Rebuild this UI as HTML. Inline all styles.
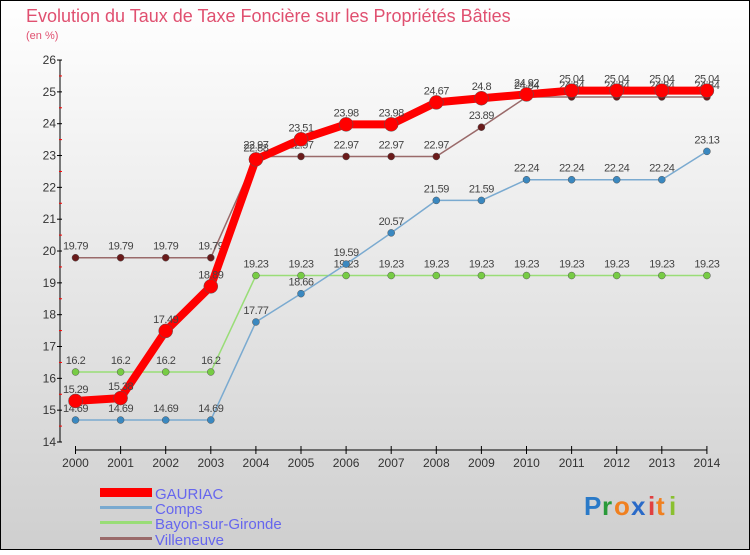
<!DOCTYPE html>
<html><head><meta charset="utf-8"><style>
body{margin:0;}
svg text{font-family:"Liberation Sans",sans-serif;}
</style></head><body>
<svg width="750" height="550" xmlns="http://www.w3.org/2000/svg">
<defs><linearGradient id="bg" x1="0" y1="0" x2="0" y2="1"><stop offset="0" stop-color="#ffffff"/><stop offset="1" stop-color="#cfcfcf"/></linearGradient></defs>
<rect x="0.5" y="0.5" width="749" height="549" fill="url(#bg)" stroke="#000"/>
<text x="26" y="22" font-size="18" fill="#e05070">Evolution du Taux de Taxe Foncière sur les Propriétés Bâties</text>
<text x="26" y="39" font-size="11" fill="#e05070">(en %)</text>
<g id="axes"></g>
<g id="series"></g>
<g>
<rect x="100" y="488" width="52" height="9" fill="#ff0000"/>
<text x="155" y="499" font-size="15" fill="#6666ee">GAURIAC</text>
<rect x="100" y="506" width="52" height="3" fill="#7aaad0"/>
<text x="155" y="514" font-size="15" fill="#6666ee">Comps</text>
<rect x="100" y="521" width="52" height="3" fill="#99dd77"/>
<text x="155" y="529" font-size="15" fill="#6666ee">Bayon-sur-Gironde</text>
<rect x="100" y="537" width="52" height="3" fill="#9a6a6a"/>
<text x="155" y="545" font-size="15" fill="#6666ee">Villeneuve</text>
</g>
<g font-size="26" font-weight="bold">
<text x="584" y="515" fill="#2a7ac8">P</text><text x="602" y="515" fill="#2a9a3a">r</text><text x="614" y="515" fill="#f08020">o</text><text x="631" y="515" fill="#2a6ac8">x</text><text x="648" y="515" fill="#e04040">i</text><text x="656" y="515" fill="#f08020">t</text><text x="669" y="515" fill="#8ac030">i</text>
</g>
</svg>
<script>
const years=[2000,2001,2002,2003,2004,2005,2006,2007,2008,2009,2010,2011,2012,2013,2014];
const yTicks=[14,15,16,17,18,19,20,21,22,23,24,25,26];
const gauriac=[15.29,15.38,17.49,18.89,22.88,23.51,23.98,23.98,24.67,24.8,24.92,25.04,25.04,25.04,25.04];
const comps=[14.69,14.69,14.69,14.69,17.77,18.66,19.59,20.57,21.59,21.59,22.24,22.24,22.24,22.24,23.13];
const bayon=[16.2,16.2,16.2,16.2,19.23,19.23,19.23,19.23,19.23,19.23,19.23,19.23,19.23,19.23,19.23];
const villeneuve=[19.79,19.79,19.79,19.79,22.97,22.97,22.97,22.97,22.97,23.89,24.84,24.84,24.84,24.84,24.84];
const NS="http://www.w3.org/2000/svg";
const X=i=>75.5+i*45.1;
const Y=v=>442-(v-14)*31.83;
function mk(t,a,p){const e=document.createElementNS(NS,t);for(const k in a)e.setAttribute(k,a[k]);p.appendChild(e);return e;}
const ax=document.getElementById('axes');
const yl=mk('line',{x1:60,y1:Y(26),x2:60,y2:Y(14),stroke:'#000'},ax);


yTicks.forEach(v=>{
 mk('line',{x1:57,y1:Y(v),x2:62,y2:Y(v),stroke:'#000'},ax);
 if(v<26) mk('line',{x1:59,y1:Y(v+0.5),x2:62,y2:Y(v+0.5),stroke:'#f00'},ax);
 const t=mk('text',{x:56,y:Y(v)+4,'font-size':12,'text-anchor':'end',fill:'#333'},ax);t.textContent=v;
 
 
});
const xl=mk('line',{x1:X(0),y1:450,x2:X(14),y2:450,stroke:'#000'},ax);


years.forEach((y,i)=>{
 mk('line',{x1:X(i),y1:446,x2:X(i),y2:454,stroke:'#000'},ax);
 const t=mk('text',{x:X(i),y:467,'font-size':12,'text-anchor':'middle',fill:'#333'},ax);t.textContent=y;
 
 
});
const sg=document.getElementById('series');
function series(vals,name,color,dot,w,r){
 const g=mk('g',{},sg);
 
 
 const l=mk('polyline',{points:vals.map((v,i)=>X(i)+','+Y(v)).join(' '),fill:'none',stroke:color,'stroke-width':w,'stroke-linejoin':'round'},g);
 
 
 vals.forEach((v,i)=>{
  const c=mk('circle',{cx:X(i),cy:Y(v),r:r,fill:dot,stroke:'#555','stroke-width':0.5},g);
  
  
  const t=mk('text',{x:X(i),y:Y(v)-8,'font-size':11,'text-anchor':'middle',fill:'#444','letter-spacing':'-0.5'},g);
  t.textContent=v;
  
  
 });
}
series(villeneuve,'villeneuve','#9a6a6a','#6a1a1a',1.5,3.5);
series(bayon,'bayon','#99dd77','#77cc44',1.5,3.5);
series(comps,'comps','#7aaad0','#3a88c0',1.5,3.5);
series(gauriac,'gauriac','#ff0000','#ff0000',8,7);
</script>
</body></html>
